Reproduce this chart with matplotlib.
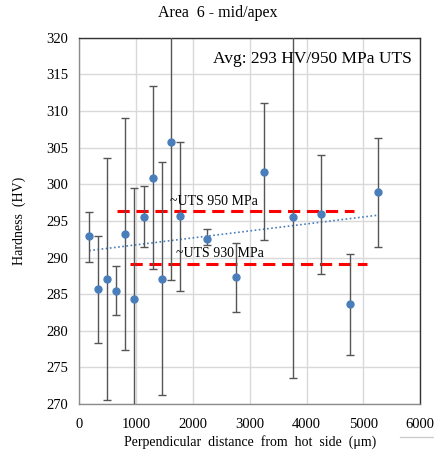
import numpy as np
import matplotlib
matplotlib.use("Agg")
import matplotlib.pyplot as plt

# Data
distance = [176, 340, 487, 645, 810, 968, 1133, 1291, 1450, 1614, 1772,
            2248, 2752, 3257, 3756, 4255, 4759, 5264]
hardness = [293.0, 285.7, 287.1, 285.4, 293.2, 284.3, 295.6, 300.9, 287.1,
            305.8, 295.7, 292.5, 287.3, 301.7, 295.5, 295.9, 283.6, 298.9]
err_upper = [296.2, 292.9, 303.6, 288.8, 309.0, 299.5, 299.7, 313.4, 303.0,
             325.0, 305.8, 293.9, 292.0, 311.1, 325.0, 304.0, 290.5, 306.3]
err_lower = [289.4, 278.4, 270.5, 282.1, 277.4, 267.0, 291.4, 288.4, 271.2,
             287.0, 285.4, 291.7, 282.6, 292.4, 273.6, 287.7, 276.7, 291.5]

uts950_level = 296.4
uts950_span = [663, 4842]
uts930_level = 289.1
uts930_span = [898, 5065]

x_ticks = [0, 1000, 2000, 3000, 4000, 5000, 6000]
y_ticks = [270, 275, 280, 285, 290, 295, 300, 305, 310, 315, 320]

serif = ["Liberation Serif", "DejaVu Serif"]
plt.rcParams["font.family"] = serif

fig = plt.figure(figsize=(4.35, 4.55), dpi=100)
ax = fig.add_axes([0.182, 0.112, 0.784, 0.805])

x = np.array(distance)
y = np.array(hardness)
yerr = np.vstack([y - np.array(err_lower), np.array(err_upper) - y])

ax.errorbar(x, y, yerr=yerr, fmt="none", ecolor="#555555", elinewidth=1.0,
            capsize=2.8, capthick=1.0, zorder=3)
ax.plot(x, y, "o", color="#4a7ebb", markersize=5, zorder=4)

# linear trendline
coef = np.polyfit(x, y, 1)
ax.plot(x[[0, -1]], np.polyval(coef, x[[0, -1]]), linestyle=(0, (1, 1.5)),
        color="#4a7ebb", linewidth=1.2, zorder=2)

ax.hlines(uts950_level, uts950_span[0], uts950_span[1], colors="#ff0000",
          linestyles=(0, (4, 2.2)), linewidth=2.2, zorder=2)
ax.hlines(uts930_level, uts930_span[0], uts930_span[1], colors="#ff0000",
          linestyles=(0, (4, 2.2)), linewidth=2.2, zorder=2)
ax.text(1600, 297.7, "~UTS 950 MPa", fontsize=10, ha="left", va="center", zorder=5)
ax.text(1710, 290.6, "~UTS 930 MPa", fontsize=10, ha="left", va="center", zorder=5)

ax.text(0.975, 0.965, "Avg: 293 HV/950 MPa UTS", transform=ax.transAxes,
        ha="right", va="top", fontsize=12.5)

ax.set_xlim(0, 6000)
ax.set_ylim(270, 320)
ax.set_xticks(x_ticks)
ax.set_yticks(y_ticks)
ax.tick_params(length=0, labelsize=10.5)
ax.tick_params(axis="x", pad=10)
ax.tick_params(axis="y", pad=8)
ax.grid(True, color="#d9d9d9", linewidth=1.0)
ax.set_axisbelow(True)

for side in ["left", "bottom"]:
    ax.spines[side].set_color("#8c8c8c")
for side in ["top", "right"]:
    ax.spines[side].set_color("#333333")
for s in ax.spines.values():
    s.set_linewidth(1.0)

ax.set_xlabel("Perpendicular  distance  from  hot  side  (\u03bcm)", fontsize=10, labelpad=3)
ax.set_ylabel("Hardness  (HV)", fontsize=10, labelpad=14)
fig.text(0.5, 0.972, "Area  6 - mid/apex", ha="center", va="center", fontsize=11.5)

fig.add_artist(plt.Line2D([0.92, 1.0], [0.04, 0.04], transform=fig.transFigure,
                          color="#cccccc", linewidth=1))

fig.savefig("out.png", dpi=100)
